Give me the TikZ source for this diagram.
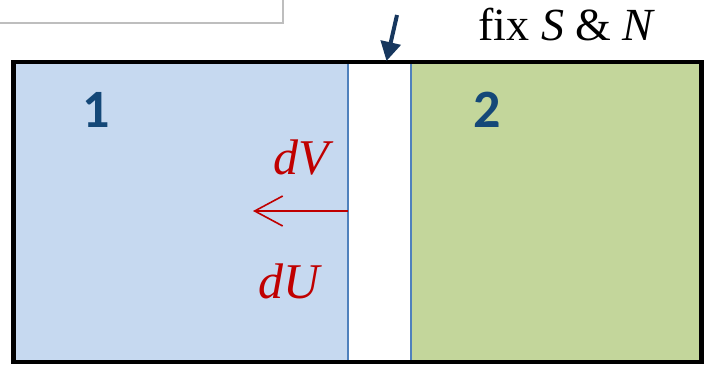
\documentclass[tikz,border=0pt]{standalone}
\usepackage{fontspec}
\setmainfont{Liberation Serif}
\newfontfamily\labelfont{Carlito}
\usepackage{tikz}
\usetikzlibrary{arrows.meta,positioning}
\definecolor{chamberblue}{RGB}{198,217,240}
\definecolor{chambergreen}{RGB}{195,214,155}
\definecolor{pistonline}{RGB}{79,129,189}
\definecolor{labelnavy}{RGB}{20,72,120}
\definecolor{pushnavy}{RGB}{23,55,94}
\definecolor{diffred}{RGB}{192,0,0}
\definecolor{framegrey}{RGB}{190,190,190}
\tikzset{
  wall/.style={draw=black, line width=2.4pt},
  pistonedge/.style={draw=pistonline, line width=0.7pt},
  numlbl/.style={font=\labelfont\bfseries\fontsize{27}{30}\selectfont, text=labelnavy, inner sep=0pt},
  difflbl/.style={font=\itshape\fontsize{25}{28}\selectfont, text=diffred, inner sep=0pt},
  toptext/.style={font=\fontsize{23}{26}\selectfont, inner sep=0pt, anchor=base},
  pusharr/.style={-{Triangle[length=9.5pt,width=10pt]}, line width=2pt, draw=pushnavy},
  shiftarr/.style={-{Straight Barb[length=14pt,width=15pt]}, line width=0.8pt, draw=diffred},
}
\begin{document}
\begin{tikzpicture}[x=0.5pt,y=-0.5pt]
  \useasboundingbox (0,0) rectangle (704,365);
  % cut-off panel at the top left
  \draw[framegrey, line width=0.8pt] (-10,-40) rectangle (283,23);
  % chambers and piston
  \fill[chamberblue]  (13,62) rectangle (348,363);
  \fill[white]        (348,62) rectangle (411,363);
  \fill[chambergreen] (411,62) rectangle (702,363);
  \draw[pistonedge] (348,62) -- (348,363);
  \draw[pistonedge] (411,62) -- (411,363);
  \draw[wall] (13.5,62) rectangle (701.5,362);
  \node[numlbl] (one) at (96,110) {1};
  \node[numlbl] (two) at (487,110) {2};
  \node[difflbl] (dv) at (301,158) {dV};
  \node[difflbl] (du) at (289,281) {dU};
  \node[toptext] (fix) at (567,40) {fix \textit{S} \& \textit{N}};
  % arrows
  \coordinate (pushtail) at (397,15);
  \coordinate (pistontop) at (386.5,61);
  \coordinate (pistonleft) at (348,211);
  \coordinate (shifttip) at (253,211);
  \draw[pusharr] (pushtail) -- (pistontop);
  \draw[shiftarr] (pistonleft) -- (shifttip);
\end{tikzpicture}
\end{document}
